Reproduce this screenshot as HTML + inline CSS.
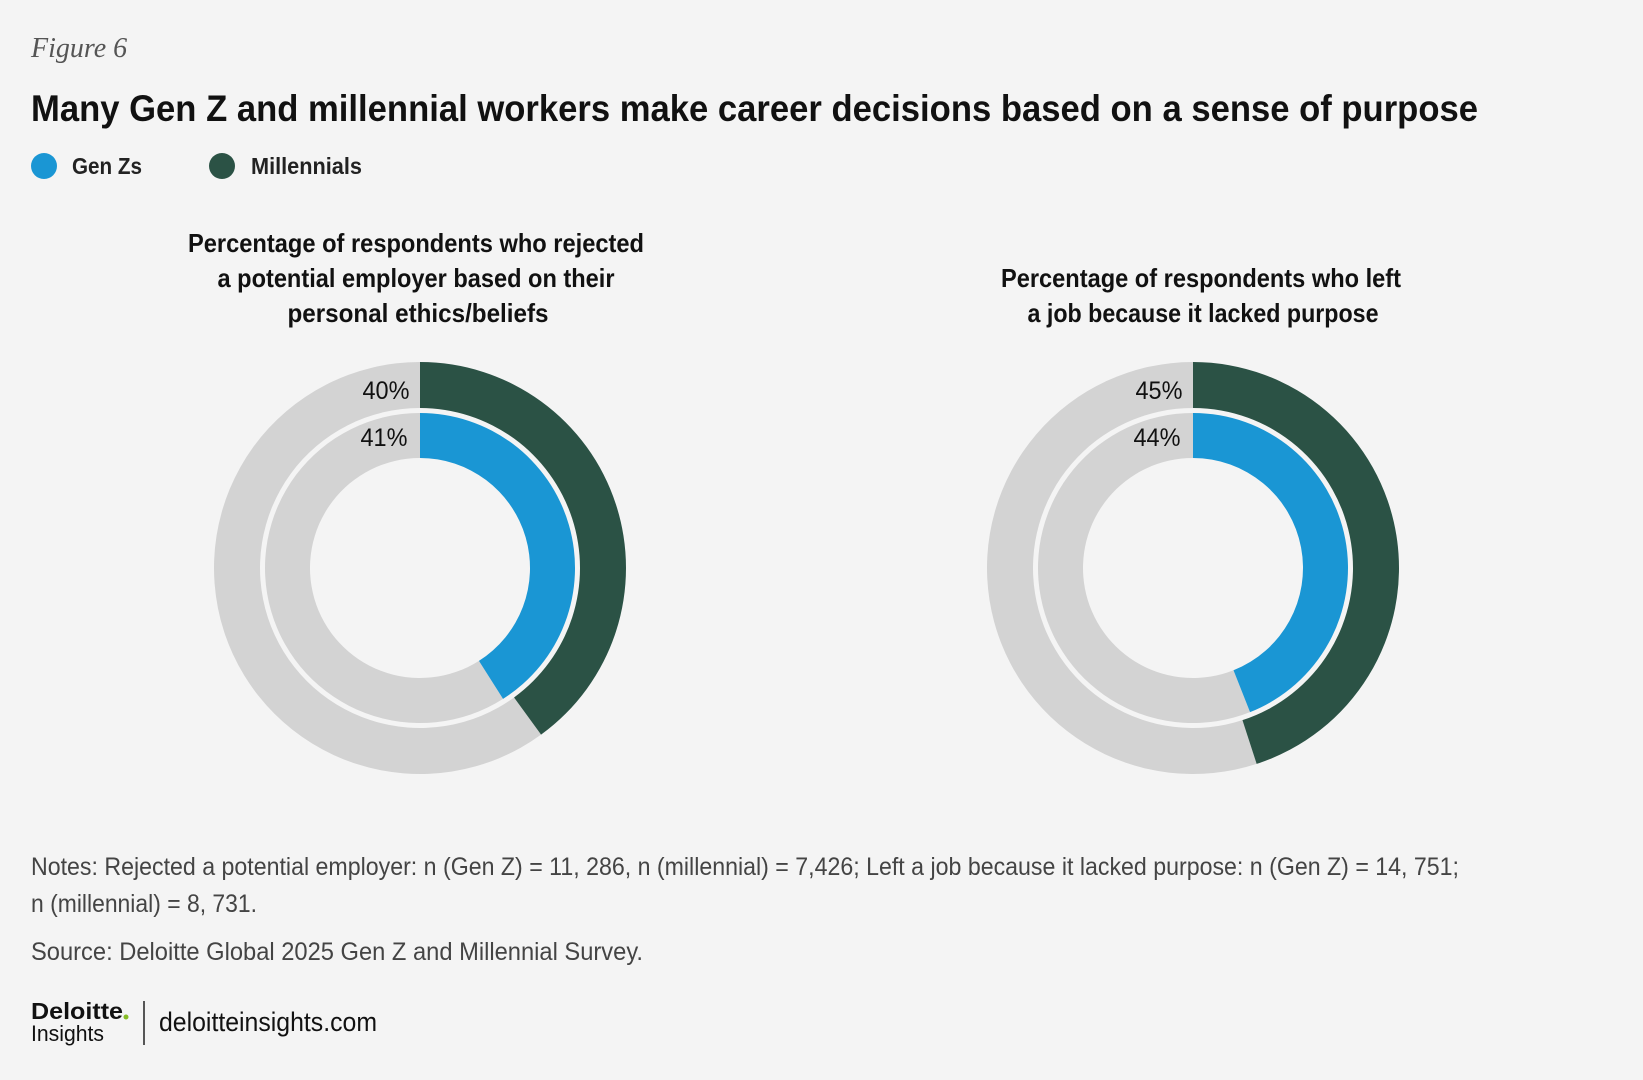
<!DOCTYPE html>
<html><head><meta charset="utf-8"><style>
html,body{margin:0;padding:0;background:#f4f4f4;}
svg{display:block;font-family:"Liberation Sans",sans-serif;}
</style></head><body>
<svg id="chart" width="1643" height="1080" viewBox="0 0 1643 1080">
<rect width="1643" height="1080" fill="#f4f4f4"/>
<text x="31" y="57" font-family="Liberation Serif,serif" font-style="italic" font-size="28" fill="#555">Figure 6</text>
<text x="31" y="121" font-size="37" font-weight="bold" fill="#111" textLength="1447" lengthAdjust="spacingAndGlyphs">Many Gen Z and millennial workers make career decisions based on a sense of purpose</text>
<circle cx="44" cy="166" r="13" fill="#1a96d4"/>
<text x="72" y="174" font-size="23" font-weight="bold" fill="#222" textLength="70" lengthAdjust="spacingAndGlyphs">Gen Zs</text>
<circle cx="222" cy="166" r="13" fill="#2b5245"/>
<text x="251" y="174" font-size="23" font-weight="bold" fill="#222" textLength="111" lengthAdjust="spacingAndGlyphs">Millennials</text>
<g font-size="26" font-weight="bold" fill="#111" text-anchor="middle">
<text x="416" y="252" textLength="456" lengthAdjust="spacingAndGlyphs">Percentage of respondents who rejected</text>
<text x="416" y="287" textLength="397" lengthAdjust="spacingAndGlyphs">a potential employer based on their</text>
<text x="418" y="322" textLength="261" lengthAdjust="spacingAndGlyphs">personal ethics/beliefs</text>
<text x="1201" y="287" textLength="400" lengthAdjust="spacingAndGlyphs">Percentage of respondents who left</text>
<text x="1203" y="322" textLength="351" lengthAdjust="spacingAndGlyphs">a job because it lacked purpose</text>
</g>
<g id="donuts"></g>
<g font-size="25" fill="#444">
<text x="31" y="875" textLength="1428" lengthAdjust="spacingAndGlyphs">Notes: Rejected a potential employer: n (Gen Z) = 11, 286, n (millennial) = 7,426; Left a job because it lacked purpose: n (Gen Z) = 14, 751;</text>
<text x="31" y="912" textLength="226" lengthAdjust="spacingAndGlyphs">n (millennial) = 8, 731.</text>
<text x="31" y="960" textLength="612" lengthAdjust="spacingAndGlyphs">Source: Deloitte Global 2025 Gen Z and Millennial Survey.</text>
</g>
<g>
<text x="31" y="1019" font-size="23" font-weight="bold" fill="#111" textLength="92" lengthAdjust="spacingAndGlyphs">Deloitte</text>
<circle cx="126" cy="1017" r="2.5" fill="#86bc25"/>
<text x="31" y="1041" font-size="22" fill="#111" textLength="73" lengthAdjust="spacingAndGlyphs">Insights</text>
</g>
<line x1="144" y1="1001" x2="144" y2="1045" stroke="#222" stroke-width="1.5"/>
<text x="159" y="1031" font-size="27" fill="#111" textLength="218" lengthAdjust="spacingAndGlyphs">deloitteinsights.com</text>
</svg>
<script>
const charts = ["rejected-employer", "left-job"];
const millennialValues = [40, 45];
const genzValues = [41, 44];
const centersX = [420, 1193];
const cy = 568;
const NS = "http://www.w3.org/2000/svg";
const g = document.getElementById("donuts");
function pt(r, pct, cx){const a = pct/100*2*Math.PI; return [cx + r*Math.sin(a), cy - r*Math.cos(a)];}
function arc(cx, r0, r1, p0, p1){
  if (p1 - p0 >= 99.999) p1 = p0 + 99.999;
  const large = (p1 - p0) > 50 ? 1 : 0;
  const a = pt(r1,p0,cx), b = pt(r1,p1,cx), c = pt(r0,p1,cx), d = pt(r0,p0,cx);
  return `M${a[0]},${a[1]} A${r1},${r1} 0 ${large} 1 ${b[0]},${b[1]} L${c[0]},${c[1]} A${r0},${r0} 0 ${large} 0 ${d[0]},${d[1]} Z`;
}
function add(d, fill, name){
  const p = document.createElementNS(NS, "path");
  p.setAttribute("d", d); p.setAttribute("fill", fill);
  
  
  g.appendChild(p);
}
function label(x, y, t, name){
  const e = document.createElementNS(NS, "text");
  e.setAttribute("x", x); e.setAttribute("y", y);
  e.setAttribute("text-anchor", "middle"); e.setAttribute("font-size", "25");
  e.setAttribute("fill", "#111"); e.setAttribute("textLength", "47");
  e.setAttribute("lengthAdjust", "spacingAndGlyphs");
  e.textContent = t;
  
  
  g.appendChild(e);
}
charts.forEach((c, i) => {
  const cx = centersX[i];
  const m = millennialValues[i], z = genzValues[i];
  add(arc(cx, 160, 206, m, 100), "#d3d3d3", c + "-millennial-remainder");
  add(arc(cx, 160, 206, 0, m), "#2b5245", c + "-millennial-arc");
  add(arc(cx, 110, 155, z, 100), "#d3d3d3", c + "-genz-remainder");
  add(arc(cx, 110, 155, 0, z), "#1a96d4", c + "-genz-arc");
  label(cx - 34, 399, m + "%", c + "-millennial-label");
  label(cx - 36, 446, z + "%", c + "-genz-label");
});
</script>
</body></html>
